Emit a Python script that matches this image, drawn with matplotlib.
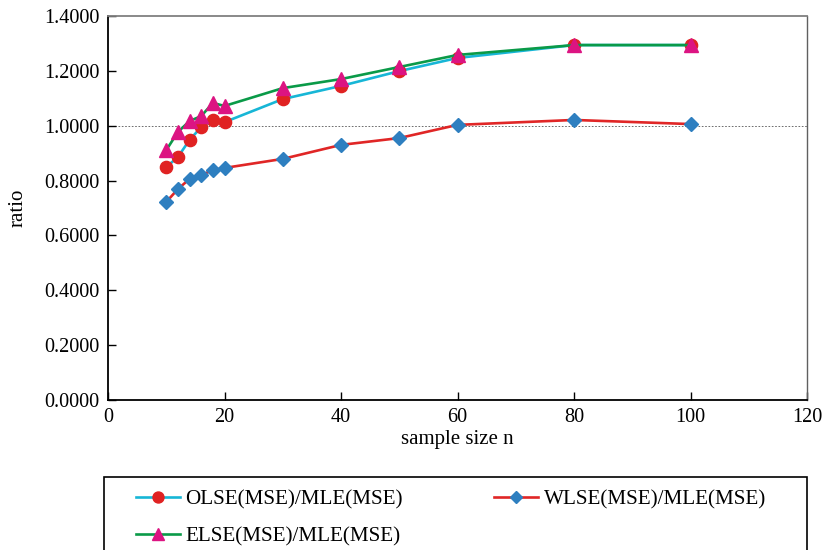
import matplotlib
matplotlib.use('Agg')
import matplotlib.pyplot as plt
from matplotlib.patches import Rectangle

# sample sizes and MSE ratios
sample_size = [10, 12, 14, 16, 18, 20, 30, 40, 50, 60, 80, 100]
olse_ratio = [0.849, 0.886, 0.948, 0.995, 1.021, 1.013, 1.097, 1.145, 1.199, 1.247, 1.294, 1.294]
wlse_ratio = [0.722, 0.769, 0.806, 0.820, 0.838, 0.846, 0.879, 0.930, 0.955, 1.003, 1.021, 1.006]
else_ratio = [0.911, 0.977, 1.017, 1.035, 1.083, 1.072, 1.137, 1.170, 1.214, 1.258, 1.294, 1.294]

labels = ['OLSE(MSE)/MLE(MSE)', 'WLSE(MSE)/MLE(MSE)', 'ELSE(MSE)/MLE(MSE)']
y_ticks = [0.0, 0.2, 0.4, 0.6, 0.8, 1.0, 1.2, 1.4]
x_ticks = [0, 20, 40, 60, 80, 100, 120]

plt.rcParams['font.family'] = ['Liberation Serif', 'DejaVu Serif']
plt.rcParams['font.size'] = 15

W, H = 827, 550
fig = plt.figure(figsize=(W / 100, H / 100), dpi=100)
ax = fig.add_axes([108 / W, 1 - 400 / H, (807 - 108) / W, (400 - 16) / H])

ax.axhline(1.0, color='#555555', lw=0.6, ls=(0, (2, 2)), zorder=1)

l1, = ax.plot(sample_size, olse_ratio, color='#17b6d6', lw=1.9, marker='o', ms=8.8,
              mfc='#e02222', mec='#e02222', zorder=3)
l2, = ax.plot(sample_size, wlse_ratio, color='#e02626', lw=1.9, marker='D', ms=6.8,
              mfc='#2e7fc0', mec='#2e7fc0', zorder=3)
l3, = ax.plot(sample_size, else_ratio, color='#0a9a48', lw=1.9, marker='^', ms=9.8,
              mfc='#dc1482', mec='#dc1482', zorder=4)

ax.set_xlim(0, 120)
ax.set_ylim(0, 1.4)
ax.set_xticks(x_ticks)
ax.set_yticks(y_ticks)
ax.set_yticklabels(['%.4f' % v for v in y_ticks])
ax.tick_params(direction='in', length=6, width=1, top=False, right=False, pad=6,
               labelsize=14.6)

for side in ['left', 'bottom']:
    ax.spines[side].set_color('black')
    ax.spines[side].set_linewidth(1.3)
ax.spines['top'].set_color('#808080')
ax.spines['top'].set_linewidth(1.3)
ax.spines['right'].set_color('#606060')
ax.spines['right'].set_linewidth(1.0)

ax.set_xlabel('sample size n', labelpad=2)
ax.set_ylabel('ratio', labelpad=12)

# legend box runs off the bottom of the picture
frame = Rectangle((104 / W, -0.1), (807 - 104) / W, (1 - 477 / H) + 0.1,
                  transform=fig.transFigure, fill=False, ec='black', lw=1.2, clip_on=False)
fig.patches.append(frame)

# column-first fill: OLSE and ELSE in the first column, WLSE in the second
fig.legend([l1, l3, l2], [labels[0], labels[2], labels[1]], ncol=2, frameon=False,
           loc='upper left', bbox_to_anchor=(136 / W, 1 - 490 / H), fontsize=15.2,
           borderpad=0, borderaxespad=0, handlelength=2.1, handletextpad=0.25,
           columnspacing=4.3, labelspacing=0.8, markerscale=0.9)

fig.savefig('out.png', dpi=100)
